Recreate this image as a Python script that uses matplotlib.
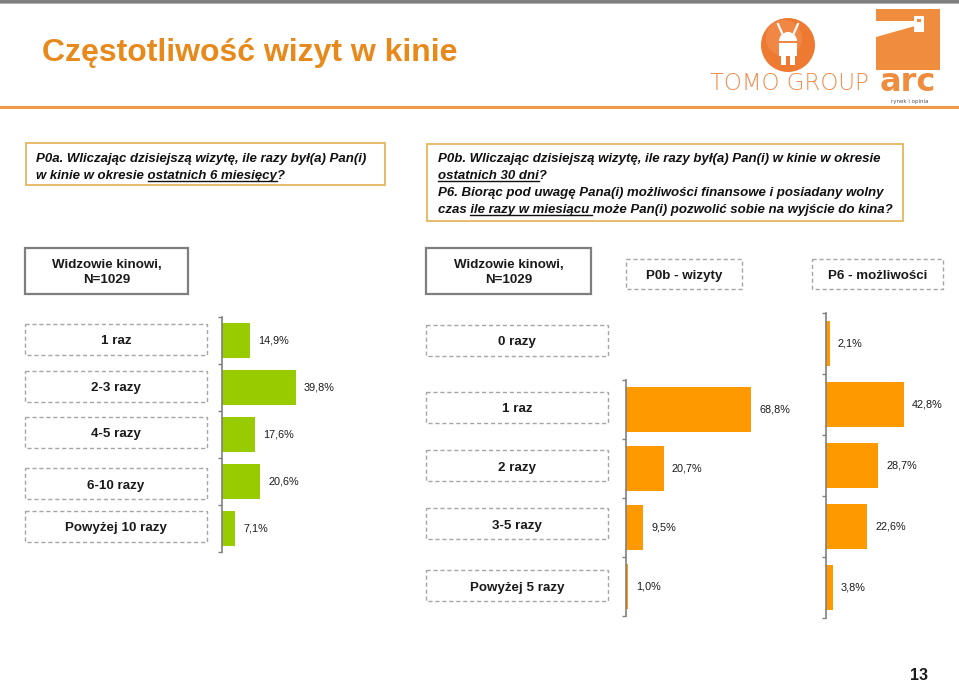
import numpy as np
import matplotlib
matplotlib.use("Agg")
import matplotlib.pyplot as plt
from matplotlib.patches import Rectangle, Circle, Polygon, Wedge
from matplotlib.lines import Line2D

# ---------------- data ----------------
title = "Częstotliwość wizyt w kinie"
sample_label = "Widzowie kinowi,\nN=1029"
p0a_categories = ["1 raz", "2-3 razy", "4-5 razy", "6-10 razy", "Powyżej 10 razy"]
p0a_values = [14.9, 39.8, 17.6, 20.6, 7.1]
right_categories = ["0 razy", "1 raz", "2 razy", "3-5 razy", "Powyżej 5 razy"]
p0b_title = "P0b - wizyty"
p0b_categories = ["1 raz", "2 razy", "3-5 razy", "Powyżej 5 razy"]
p0b_values = [68.8, 20.7, 9.5, 1.0]
p6_title = "P6 - możliwości"
p6_categories = ["0 razy", "1 raz", "2 razy", "3-5 razy", "Powyżej 5 razy"]
p6_values = [2.1, 42.8, 28.7, 22.6, 3.8]
page_number = "13"

q1_lines = [
    [("P0a. Wliczając dzisiejszą wizytę, ile razy był(a) Pan(i)", False)],
    [("w kinie w okresie ", False), ("ostatnich 6 miesięcy", True), ("?", False)],
]
q2_lines = [
    [("P0b. Wliczając dzisiejszą wizytę, ile razy był(a) Pan(i) w kinie w okresie", False)],
    [("ostatnich 30 dni", True), ("?", False)],
    [("P6. Biorąc pod uwagę Pana(i) możliwości finansowe i posiadany wolny", False)],
    [("czas ", False), ("ile razy w miesiącu ", True), ("może Pan(i) pozwolić sobie na wyjście do kina?", False)],
]

# ---------------- style ----------------
GREEN = "#99CC00"
ORANGE = "#FF9900"
TITLE_C = "#E8891C"
LOGO_C = "#F08C3E"
FONT = "Liberation Sans"
DASH_C = "#A6A6A6"
TXT = "#1A1A1A"

W, H = 959, 686
fig = plt.figure(figsize=(W / 100, H / 100), dpi=100)
bg = fig.add_axes([0, 0, 1, 1])
bg.set_xlim(0, W)
bg.set_ylim(H, 0)
bg.axis("off")
renderer = fig.canvas.get_renderer()

# header lines
bg.add_patch(Rectangle((0, 0), W, 2.5, color="#7F7F7F", lw=0))
bg.add_patch(Rectangle((0, 2.5), W, 1.5, color="#B0B0B0", lw=0))
bg.add_patch(Rectangle((0, 106), W, 3, color="#F39A4A", lw=0))

bg.text(42, 53, title, fontsize=23, fontweight="bold", color=TITLE_C,
        family=FONT, va="center", ha="left")

# ---- logos ----
bg.add_patch(Circle((788, 45), 27, color="#EE7A32", lw=0))
bg.add_patch(Circle((784, 38), 18, color="#F39556", lw=0, alpha=0.5))
bg.add_line(Line2D([782, 778], [33, 24], color="white", lw=1.6))
bg.add_line(Line2D([794, 798], [33, 24], color="white", lw=1.6))
bg.add_patch(Wedge((788, 41), 9, 180, 360, color="white", lw=0))
bg.add_patch(Rectangle((779, 43), 18, 13, color="white", lw=0))
bg.add_patch(Rectangle((781, 56), 5, 9, color="white", lw=0))
bg.add_patch(Rectangle((790, 56), 5, 9, color="white", lw=0))
bg.text(789, 83, "TOMO GROUP", fontsize=16.5, family="DejaVu Sans",
        fontweight="light", color="#EF8A4C", ha="center", va="center")
bg.add_patch(Rectangle((876, 9), 64, 61, color=LOGO_C, lw=0))
bg.add_patch(Polygon([(876, 21), (915, 21), (915, 26), (876, 37)],
                     closed=True, color="white", lw=0))
bg.add_patch(Rectangle((914, 16), 10, 16, color="white", lw=0))
bg.add_patch(Rectangle((917, 19), 4, 3, color=LOGO_C, lw=0))
bg.text(908, 91, "arc", fontsize=23, family="DejaVu Sans", fontweight="bold",
        color=LOGO_C, ha="center", va="baseline")
bg.text(910, 101, "rynek i opinia", fontsize=4, family="DejaVu Sans",
        color="#555555", ha="center", va="center")


# ---- question boxes with underlined parts ----
def width_px(s, **kw):
    t = bg.text(0, 0, s, **kw)
    bb = t.get_window_extent(renderer)
    t.remove()
    return bb.width


def draw_question(x, baselines, lines, size):
    kw = dict(fontsize=size, fontweight="bold", style="italic", family=FONT)
    for yb, segs in zip(baselines, lines):
        full = "".join(s for s, _ in segs)
        bg.text(x, yb, full, va="baseline", ha="left", color="#111111", **kw)
        prefix = ""
        for s, u in segs:
            if u:
                seg = s.rstrip()
                end = width_px(prefix + seg, **kw)
                start = end - width_px(seg, **kw)
                if s != seg:
                    end += 3
                bg.add_line(Line2D([x + start, x + end], [yb + 2, yb + 2],
                                   color="#111111", lw=1.0))
            prefix += s


bg.add_patch(Rectangle((26, 143), 359, 42, fill=False, ec="#E5B55E", lw=1.3))
draw_question(36, [162, 179], q1_lines, 9.5)
bg.add_patch(Rectangle((427, 144), 476, 77, fill=False, ec="#E5B55E", lw=1.3))
draw_question(438, [162, 179, 196, 213], q2_lines, 9.5)

# ---- header boxes ----
def solid_box(x0, y0, x1, y1, text):
    bg.add_patch(Rectangle((x0, y0), x1 - x0, y1 - y0, fill=False,
                           ec="#7F7F7F", lw=1.6))
    bg.text((x0 + x1) / 2, (y0 + y1) / 2 + 1.5, text, ha="center", va="center",
            fontsize=9.6, fontweight="bold", family=FONT, color=TXT,
            linespacing=1.35)


def dash_box(x0, y0, x1, y1, text):
    bg.add_patch(Rectangle((x0, y0), x1 - x0, y1 - y0, fill=False,
                           ec=DASH_C, lw=1.0, ls=(0, (3, 2))))
    bg.text((x0 + x1) / 2, (y0 + y1) / 2 + 2, text, ha="center", va="center",
            fontsize=9.6, fontweight="bold", family=FONT, color=TXT)


solid_box(25, 248, 188, 294, sample_label)
solid_box(426, 248, 591, 294, sample_label)
dash_box(626, 259, 742, 289, p0b_title)
dash_box(812, 259, 943, 289, p6_title)

left_box_tops = [324, 371, 417, 468, 511]
for top, cat in zip(left_box_tops, p0a_categories):
    dash_box(25, top, 207, top + 31, cat)
right_box_tops = [325, 392, 450, 508, 570]
for top, cat in zip(right_box_tops, right_categories):
    dash_box(426, top, 608, top + 31, cat)


# ---- bar panels ----
def fmt(v):
    return f"{v:.1f}%".replace(".", ",")


def bar_panel(x0, y_top, band, cats, vals, color, scale, width_px_=170):
    n = len(cats)
    h = band * n
    ax = fig.add_axes([x0 / W, 1 - (y_top + h) / H, width_px_ / W, h / H])
    ax.patch.set_visible(False)
    pos = np.arange(n)
    ax.barh(pos, vals, height=0.75, color=color, lw=0)
    ax.set_ylim(n - 0.5, -0.5)
    ax.set_xlim(0, width_px_ / scale)
    for s in ["top", "right", "bottom"]:
        ax.spines[s].set_visible(False)
    ax.spines["left"].set_color("#808080")
    ax.spines["left"].set_linewidth(1.2)
    ax.set_xticks([])
    ax.set_yticks(np.arange(n + 1) - 0.5)
    ax.set_yticklabels([])
    ax.tick_params(axis="y", length=3, color="#808080", width=1,
                   direction="out")
    for p, v in zip(pos, vals):
        ax.annotate(fmt(v), (v, p), xytext=(5.8, 0), textcoords="offset points",
                    va="center", ha="left", fontsize=7.8, family=FONT,
                    color=TXT)
    return ax


bar_panel(222, 317, 47, p0a_categories, p0a_values, GREEN, 1.86)
bar_panel(626, 380, 59, p0b_categories, p0b_values, ORANGE, 1.82)
bar_panel(826, 313, 61, p6_categories, p6_values, ORANGE, 1.82, 120)

bg.text(919, 675, page_number, fontsize=11.5, fontweight="bold", family=FONT,
        color=TXT, ha="center", va="center")

fig.savefig("out.png", dpi=100)
